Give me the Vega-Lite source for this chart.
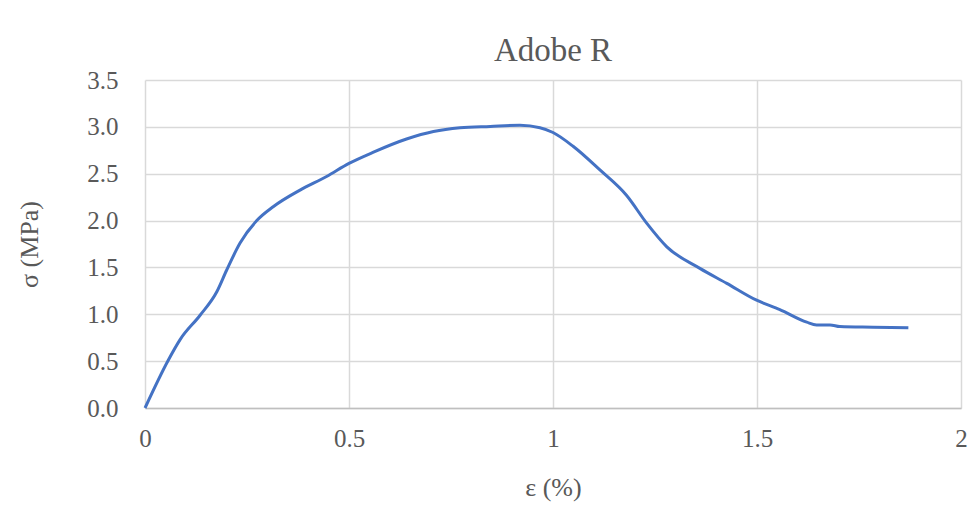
{
  "$schema": "https://vega.github.io/schema/vega-lite/v6.json",
  "width": 816,
  "height": 328,
  "autosize": {"type": "none"},
  "padding": {"left": 145, "top": 80, "right": 16, "bottom": 110},
  "background": "white",
  "title": {
    "text": "Adobe R",
    "font": "Liberation Serif",
    "fontSize": 33,
    "fontWeight": "normal",
    "color": "#595959",
    "anchor": "middle",
    "frame": "group",
    "baseline": "bottom",
    "offset": -33
  },
  "config": {
    "view": {"stroke": null},
    "axis": {
      "gridColor": "#d9d9d9",
      "gridWidth": 1.5,
      "ticks": false,
      "labelFlush": false
    }
  },
  "data": {
    "values": [
      {"strain": 0.0, "stress": 0.0},
      {"strain": 0.057, "stress": 0.51},
      {"strain": 0.086, "stress": 0.73},
      {"strain": 0.135, "stress": 0.99},
      {"strain": 0.176, "stress": 1.24},
      {"strain": 0.2, "stress": 1.47},
      {"strain": 0.233, "stress": 1.76},
      {"strain": 0.274, "stress": 2.0},
      {"strain": 0.315, "stress": 2.15},
      {"strain": 0.38, "stress": 2.325},
      {"strain": 0.445, "stress": 2.47},
      {"strain": 0.5, "stress": 2.61},
      {"strain": 0.56, "stress": 2.73},
      {"strain": 0.641, "stress": 2.87},
      {"strain": 0.707, "stress": 2.95},
      {"strain": 0.772, "stress": 2.99},
      {"strain": 0.846, "stress": 3.005},
      {"strain": 0.919, "stress": 3.017},
      {"strain": 0.968, "stress": 2.99},
      {"strain": 1.0, "stress": 2.94},
      {"strain": 1.05, "stress": 2.79},
      {"strain": 1.115, "stress": 2.54},
      {"strain": 1.18, "stress": 2.27},
      {"strain": 1.23, "stress": 1.97},
      {"strain": 1.279, "stress": 1.72},
      {"strain": 1.36, "stress": 1.49},
      {"strain": 1.426, "stress": 1.33},
      {"strain": 1.499, "stress": 1.15},
      {"strain": 1.556, "stress": 1.05},
      {"strain": 1.622, "stress": 0.916},
      {"strain": 1.646, "stress": 0.887},
      {"strain": 1.679, "stress": 0.887},
      {"strain": 1.703, "stress": 0.869},
      {"strain": 1.785, "stress": 0.862},
      {"strain": 1.871, "stress": 0.855}
    ]
  },
  "mark": {"type": "line", "color": "#4472C4", "strokeWidth": 3, "interpolate": "monotone"},
  "encoding": {
    "x": {
      "field": "strain",
      "type": "quantitative",
      "title": "ε (%)",
      "scale": {"domain": [0, 2], "nice": false},
      "axis": {
        "values": [0, 0.5, 1, 1.5, 2],
        "labelExpr": "datum.value == 0 ? '0' : datum.value == 1 ? '1' : datum.value == 2 ? '2' : format(datum.value, '.1f')",
        "labelFont": "Liberation Serif",
        "titleFont": "Liberation Serif",
        "labelColor": "#595959",
        "titleColor": "#595959",
        "labelFontSize": 25,
        "titleFontSize": 26,
        "titleFontWeight": "normal",
        "domain": true,
        "domainColor": "#bfbfbf",
        "domainWidth": 1.5,
        "labelPadding": 18,
        "titlePadding": 23
      }
    },
    "y": {
      "field": "stress",
      "type": "quantitative",
      "title": "σ (MPa)",
      "scale": {"domain": [0, 3.5], "nice": false},
      "axis": {
        "values": [0, 0.5, 1, 1.5, 2, 2.5, 3, 3.5],
        "format": ".1f",
        "labelFont": "Liberation Serif",
        "titleFont": "Liberation Serif",
        "labelColor": "#595959",
        "titleColor": "#595959",
        "labelFontSize": 25,
        "titleFontSize": 26,
        "titleFontWeight": "normal",
        "domain": false,
        "labelPadding": 27,
        "titlePadding": 44
      }
    }
  }
}
